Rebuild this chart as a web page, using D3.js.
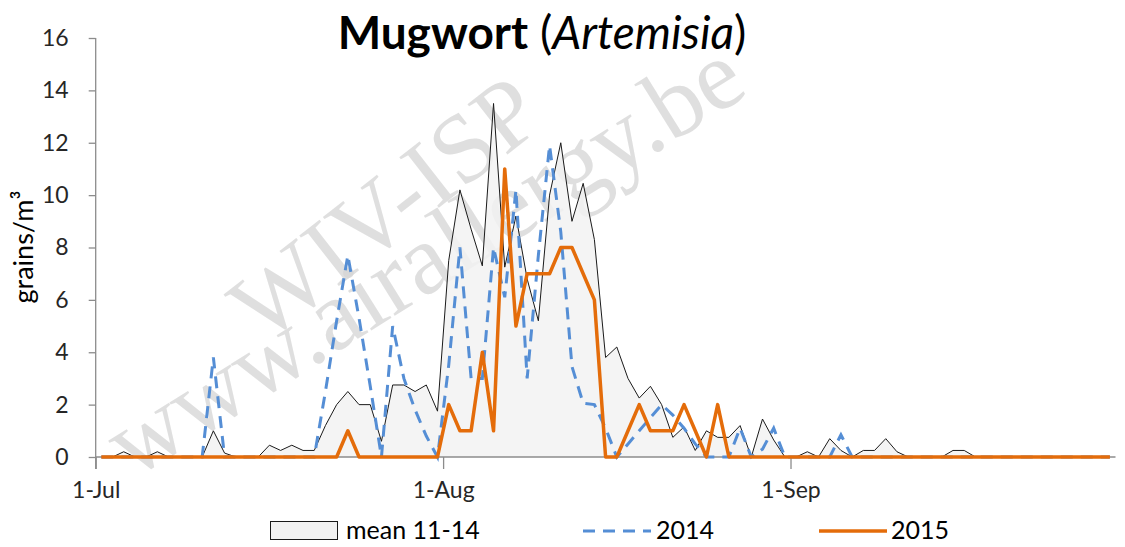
<!DOCTYPE html>
<html>
<head>
<meta charset="utf-8">
<script src="https://cdn.jsdelivr.net/npm/d3@7"></script>
<style>
  body { margin: 0; background: #fff; }
  svg { display: block; }
</style>
</head>
<body>
<div class="chart-container"></div>
<script>
const SVG_WIDTH = 1125;
const SVG_HEIGHT = 547;

// one value per day, starting 1 July
const startDate = "2015-07-01";

const mean1114 = [
    0, 0, 0.2, 0, 0, 0.2, 0, 0, 0, 0,
    1.0, 0.15, 0, 0, 0, 0.45, 0.25, 0.45, 0.25, 0.25,
    1.2, 2.0, 2.5, 2.0, 2.0, 0.6, 2.75, 2.75, 2.5, 2.75,
    1.75, 7.5, 10.2, 8.7, 7.3, 13.5, 7.25, 9.2, 6.8, 5.2,
    10.0, 12.0, 9.0, 10.45, 8.3, 3.8, 4.2, 3.0, 2.25, 2.7,
    2.0, 0.75, 1.15, 0.25, 1.0, 0.75, 0.75, 1.2, 0, 1.45,
    0.65, 0, 0, 0.2, 0, 0.7, 0.25, 0, 0.25, 0.25,
    0.7, 0.2, 0, 0, 0, 0, 0.25, 0.25, 0, 0,
    0, 0, 0, 0, 0, 0, 0, 0, 0, 0,
    0
];

const series2014 = [
    0, 0, 0, 0, 0, 0, 0, 0, 0, 0,
    3.8, 0, 0, 0, 0, 0, 0, 0, 0, 0,
    2.5, 5.2, 7.7, 5.3, 2.7, 0, 5.0, 3.0, 1.8, 0.8,
    0, 3.5, 8.0, 3.0, 3.0, 8.0, 6.1, 10.2, 3.0, 7.7,
    11.9, 8.6, 3.45, 2.05, 2.0, 1.1, 0, 0.5, 1.0, 1.5,
    2.0, 1.6, 1.1, 0.5, 0, 0, 0, 1.1, 0, 0.3,
    1.1, 0, 0, 0, 0, 0, 0.85, 0, 0, 0,
    0, 0, 0, 0, 0, 0, 0, 0, 0, 0,
    0, 0, 0, 0, 0, 0, 0, 0, 0, 0,
    0
];

const series2015 = [
    0, 0, 0, 0, 0, 0, 0, 0, 0, 0,
    0, 0, 0, 0, 0, 0, 0, 0, 0, 0,
    0, 0, 1, 0, 0, 0, 0, 0, 0, 0,
    0, 2, 1, 1, 4, 1, 11, 5, 7, 7,
    7, 8, 8, 7, 6, 0, 0, 1, 2, 1,
    1, 1, 2, 1, 0, 2, 0, 0, 0, 0,
    0, 0, 0, 0, 0, 0, 0, 0, 0, 0,
    0, 0, 0, 0, 0, 0, 0, 0, 0, 0,
    0, 0, 0, 0, 0, 0, 0, 0, 0, 0,
    0
];

const xTickDates = ["2015-07-01", "2015-08-01", "2015-09-01"];
const yTicks = [0, 2, 4, 6, 8, 10, 12, 14, 16];

const legendItems = ["mean 11-14", "2014", "2015"];

const BLUE = "#558ed5";
const ORANGE = "#e46c0a";
const FONT = "Lato, 'Open Sans', sans-serif";

const svg = d3.select(".chart-container")
    .append("svg")
    .attr("width", SVG_WIDTH)
    .attr("height", SVG_HEIGHT);

const parse = d3.utcParse("%Y-%m-%d");
const start = parse(startDate);

function dayDate(i) {
    // readings sit at the middle of each day
    return new Date(start.getTime() + (i + 0.5) * 864e5);
}

const x = d3.scaleUtc()
    .domain([start, parse("2015-09-30")])
    .range([95.7, 1115.5]);

const y = d3.scaleLinear()
    .domain([0, 16])
    .range([457, 38]);

function toPoints(values) {
    return values.map((v, i) => ({ date: dayDate(i), value: v }));
}

// watermark
const watermark = svg.append("g")
    .style("font-family", "'Liberation Serif', 'DejaVu Serif', serif")
    .attr("fill", "#d4d4d4")
    .attr("fill-opacity", 0.75);

watermark.append("text")
    .attr("transform", "translate(385,208) rotate(-38)")
    .attr("text-anchor", "middle")
    .attr("dominant-baseline", "central")
    .style("font-size", "98px")
    .text("WIV-ISP");

watermark.append("text")
    .attr("transform", "translate(424,258) rotate(-32)")
    .attr("text-anchor", "middle")
    .attr("dominant-baseline", "central")
    .style("font-size", "100px")
    .text("www.airallergy.be");

// mean area
const area = d3.area()
    .x(d => x(d.date))
    .y0(y(0))
    .y1(d => y(d.value));

const line = d3.line()
    .x(d => x(d.date))
    .y(d => y(d.value));

const meanPts = toPoints(mean1114);

svg.append("path")
    .datum(meanPts)
    .attr("d", area)
    .attr("fill", "#f2f2f2")
    .attr("fill-opacity", 0.85);

svg.append("path")
    .datum(meanPts)
    .attr("d", line)
    .attr("fill", "none")
    .attr("stroke", "#1a1a1a")
    .attr("stroke-width", 1);

// axes
const yAxis = svg.append("g")
    .attr("transform", `translate(${x.range()[0]},0)`)
    .call(d3.axisLeft(y).tickValues(yTicks).tickSize(7).tickPadding(20));

const xAxis = svg.append("g")
    .attr("transform", `translate(0,${y(0)})`)
    .call(d3.axisBottom(x)
        .tickValues(xTickDates.map(parse))
        .tickFormat(d3.utcFormat("%-d-%b"))
        .tickSize(12)
        .tickPadding(13));

[yAxis, xAxis].forEach(a => {
    a.select(".domain").attr("stroke", "#8c8c8c").attr("stroke-width", 1.3);
    a.selectAll(".tick line").attr("stroke", "#8c8c8c").attr("stroke-width", 1.3);
    a.selectAll("text")
        .style("font-family", FONT)
        .style("font-size", "23px")
        .attr("fill", "#262626");
});
yAxis.select(".domain").attr("d", `M0,${y(0) + 12}V${y(16)}`);
xAxis.select(".domain").attr("d", `M${x.range()[0]},0H${x.range()[1]}`);

// 2014 and 2015 lines
svg.append("path")
    .datum(toPoints(series2014))
    .attr("d", line)
    .attr("fill", "none")
    .attr("stroke", BLUE)
    .attr("stroke-width", 3)
    .attr("stroke-dasharray", "12,8");

svg.append("path")
    .datum(toPoints(series2015))
    .attr("d", line)
    .attr("fill", "none")
    .attr("stroke", ORANGE)
    .attr("stroke-width", 3.5)
    .attr("stroke-linejoin", "round");

// title
const title = svg.append("text")
    .attr("x", 542)
    .attr("y", 49)
    .attr("text-anchor", "middle")
    .style("font-family", FONT)
    .style("font-size", "46px")
    .attr("fill", "#000");
title.append("tspan").style("font-weight", "bold").text("Mugwort");
title.append("tspan").text(" (");
title.append("tspan").style("font-style", "italic").text("Artemisia");
title.append("tspan").text(")");

// y label
svg.append("text")
    .attr("transform", "translate(33,247) rotate(-90)")
    .attr("text-anchor", "middle")
    .style("font-family", FONT)
    .style("font-size", "27px")
    .attr("fill", "#000")
    .text("grains/m³");

// legend
const legend = svg.append("g")
    .style("font-family", FONT)
    .style("font-size", "25px")
    .attr("fill", "#000");

legend.append("rect")
    .attr("x", 270.5).attr("y", 521.5)
    .attr("width", 67).attr("height", 18)
    .attr("fill", "#f2f2f2")
    .attr("stroke", "#1a1a1a");
legend.append("text").attr("x", 346).attr("y", 539).text(legendItems[0]);

legend.append("line")
    .attr("x1", 583).attr("x2", 651).attr("y1", 531).attr("y2", 531)
    .attr("stroke", BLUE).attr("stroke-width", 3).attr("stroke-dasharray", "12,8");
legend.append("text").attr("x", 656).attr("y", 539).text(legendItems[1]);

legend.append("line")
    .attr("x1", 819).attr("x2", 887).attr("y1", 531).attr("y2", 531)
    .attr("stroke", ORANGE).attr("stroke-width", 3.5);
legend.append("text").attr("x", 891).attr("y", 539).text(legendItems[2]);
</script>
</body>
</html>
